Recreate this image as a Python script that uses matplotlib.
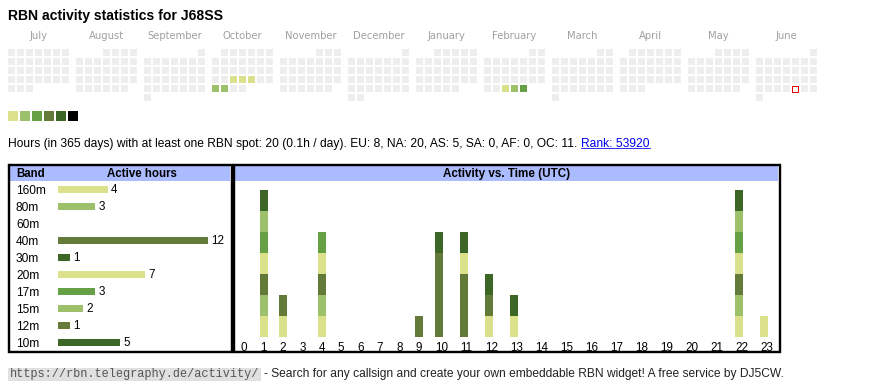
import datetime as dt
import matplotlib
matplotlib.use("Agg")
import matplotlib.pyplot as plt
from matplotlib.patches import Rectangle

# ---------------- data ----------------
title = "RBN activity statistics for J68SS"
months = ["July", "August", "September", "October", "November", "December",
          "January", "February", "March", "April", "May", "June"]
start_year, start_month = 2024, 7
level_colors = ["#dbe18a", "#9dc06a", "#66a044", "#647a38", "#3b6626", "#000000"]
empty_color = "#eeeeee"
active_dates = ["2024-10-23", "2024-10-24", "2024-10-25", "2024-10-28", "2024-10-29",
                "2025-02-26", "2025-02-27", "2025-02-28"]
active_levels = [1, 1, 1, 2, 2, 1, 2, 3]
today = "2025-06-27"

summary = ("Hours (in 365 days) with at least one RBN spot: 20 (0.1h / day). "
           "EU: 8, NA: 20, AS: 5, SA: 0, AF: 0, OC: 11.")
rank_text = "Rank: 53920"

bands = ["160m", "80m", "60m", "40m", "30m", "20m", "17m", "15m", "12m", "10m"]
band_hours = [4, 3, 0, 12, 1, 7, 3, 2, 1, 5]
band_colors = ["#dbe18a", "#9dc06a", "#66a044", "#647a38", "#3b6626",
               "#dbe18a", "#66a044", "#9dc06a", "#647a38", "#3b6626"]

hours = list(range(24))
# hours of activity per band for each UTC hour (0..23)
act_160m = [0, 1, 1, 0, 1, 0, 0, 0, 0, 0, 0, 0, 0, 0, 0, 0, 0, 0, 0, 0, 0, 0, 1, 0]
act_80m  = [0, 1, 0, 0, 1, 0, 0, 0, 0, 0, 0, 0, 0, 0, 0, 0, 0, 0, 0, 0, 0, 0, 1, 0]
act_60m  = [0] * 24
act_40m  = [0, 1, 1, 0, 1, 0, 0, 0, 0, 1, 4, 3, 0, 0, 0, 0, 0, 0, 0, 0, 0, 0, 1, 0]
act_30m  = [0, 0, 0, 0, 0, 0, 0, 0, 0, 0, 1, 0, 0, 0, 0, 0, 0, 0, 0, 0, 0, 0, 0, 0]
act_20m  = [0, 1, 0, 0, 1, 0, 0, 0, 0, 0, 0, 1, 1, 1, 0, 0, 0, 0, 0, 0, 0, 0, 1, 1]
act_17m  = [0, 1, 0, 0, 1, 0, 0, 0, 0, 0, 0, 0, 0, 0, 0, 0, 0, 0, 0, 0, 0, 0, 1, 0]
act_15m  = [0, 1, 0, 0, 0, 0, 0, 0, 0, 0, 0, 0, 0, 0, 0, 0, 0, 0, 0, 0, 0, 0, 1, 0]
act_12m  = [0, 0, 0, 0, 0, 0, 0, 0, 0, 0, 0, 0, 1, 0, 0, 0, 0, 0, 0, 0, 0, 0, 0, 0]
act_10m  = [0, 1, 0, 0, 0, 0, 0, 0, 0, 0, 0, 1, 1, 1, 0, 0, 0, 0, 0, 0, 0, 0, 1, 0]
activity = [act_160m, act_80m, act_60m, act_40m, act_30m,
            act_20m, act_17m, act_15m, act_12m, act_10m]

footer_url = "https://rbn.telegraphy.de/activity/"
footer_text = "- Search for any callsign and create your own embeddable RBN widget! A free service by DJ5CW."

# ---------------- layout ----------------
W, H, DPI = 870, 390, 100
SANS = ["Liberation Sans", "DejaVu Sans"]
PT = 0.72  # points per pixel at 100 dpi

fig = plt.figure(figsize=(W / DPI, H / DPI), dpi=DPI)
fig.patch.set_facecolor("white")


def px_rect(x, y_top, w, h):
    return [x / W, (H - y_top - h) / H, w / W, h / H]


ax0 = fig.add_axes([0, 0, 1, 1])
ax0.set_xlim(0, W)
ax0.set_ylim(H, 0)
ax0.axis("off")

ax0.text(8, 20, title, fontsize=10.1, fontweight="bold", family=SANS,
         va="baseline", ha="left", color="#000000")

# ---------------- calendar ----------------
PITCH = 9.0
MONTH_W = 68.0
axc = fig.add_axes(px_rect(8, 49, 90 * PITCH, 6 * PITCH))
axc.set_xlim(0, 90)
axc.set_ylim(6, 0)
axc.axis("off")
axc.patch.set_alpha(0)
cell = 7.0 / PITCH
level_by_date = dict(zip(active_dates, active_levels))
for m, name in enumerate(months):
    y = start_year + (start_month - 1 + m) // 12
    mo = (start_month - 1 + m) % 12 + 1
    first = dt.date(y, mo, 1)
    nxt = dt.date(y + (mo // 12), mo % 12 + 1, 1)
    ndays = (nxt - first).days
    off = m * MONTH_W / PITCH
    axc.text(off + 30.5 / PITCH, -10 / PITCH, name, fontsize=7.2,
             family="DejaVu Sans", color="#a0a0a0", ha="center", va="baseline",
             clip_on=False)
    for d in range(ndays):
        day = first + dt.timedelta(days=d)
        col = day.weekday()
        row = (d + first.weekday()) // 7
        key = day.isoformat()
        lvl = level_by_date.get(key, 0)
        fc = level_colors[lvl - 1] if lvl else empty_color
        if key == today:
            axc.add_patch(Rectangle((off + col + 0.5 / PITCH, row + 0.5 / PITCH),
                                    6 / PITCH, 6 / PITCH, facecolor="white",
                                    edgecolor="#e00000", linewidth=1.0 * PT))
        else:
            axc.add_patch(Rectangle((off + col, row), cell, cell,
                                    facecolor=fc, edgecolor="none"))

# legend swatches
for i, c in enumerate(level_colors):
    ax0.add_patch(Rectangle((8 + 12 * i, 111), 9.6, 9.6, facecolor=c, edgecolor="none"))

# summary line
t_sum = ax0.text(8, 146.7, summary, fontsize=8.66, family=SANS, va="baseline",
                 ha="left", color="#000000")

# ---------------- boxes ----------------
BOX_LW = 2.4 * PT
ax0.add_patch(Rectangle((9.2, 164.5), 222.6, 187.0, facecolor="none",
                        edgecolor="black", linewidth=BOX_LW, zorder=5))
ax0.add_patch(Rectangle((234.2, 164.5), 545.4, 187.0, facecolor="none",
                        edgecolor="black", linewidth=BOX_LW, zorder=5))
ax0.add_patch(Rectangle((10.5, 166), 220, 14.5, facecolor="#aabbff", edgecolor="none"))
ax0.add_patch(Rectangle((235.5, 166), 543, 14.5, facecolor="#aabbff", edgecolor="none"))
ax0.text(16, 177, "Band", fontsize=8.3, fontweight="bold", family=SANS,
         ha="left", va="baseline")
ax0.text(141.5, 177, "Active hours", fontsize=8.3, fontweight="bold", family=SANS,
         ha="center", va="baseline")
ax0.text(507, 177, "Activity vs. Time (UTC)", fontsize=8.4, fontweight="bold",
         family=SANS, ha="center", va="baseline")

# ---------------- band bars ----------------
ROW = 17.0
axb = fig.add_axes(px_rect(58, 189.5 - ROW / 2, 150, ROW * 10))
axb.set_xlim(0, 12)
axb.set_ylim(9.5, -0.5)
axb.patch.set_alpha(0)
for s in axb.spines.values():
    s.set_visible(False)
axb.barh(range(len(bands)), band_hours, height=7.0 / ROW, color=band_colors)
for i, v in enumerate(band_hours):
    if v > 0:
        axb.text(v + 3.0 / 12.5, i + 0.02, str(v), fontsize=8.4, family=SANS,
                 va="center", ha="left")
axb.set_xticks([])
axb.set_yticks(range(len(bands)))
axb.set_yticklabels(bands, family=SANS, fontsize=8.6, ha="left")
axb.tick_params(axis="y", length=0, pad=42 * PT)

# ---------------- activity vs time ----------------
# table-like columns: width grows with the number of digits in the hour label
UNIT = 21.0
col_w = [19.41 if h < 10 else 25.0 for h in hours]
col_start = []
acc = 240.6
for w in col_w:
    col_start.append(acc)
    acc += w
axa = fig.add_axes(px_rect(233, 336.7 - 7 * UNIT, 547, 7 * UNIT))
axa.set_xlim(233, 780)
axa.set_ylim(0, 7)
axa.patch.set_alpha(0)
for s in axa.spines.values():
    s.set_visible(False)
bottom = [0] * 24
for vals, c in zip(activity, band_colors):
    axa.bar(col_start, vals, bottom=bottom, width=8.0, align="edge", color=c,
            linewidth=0)
    bottom = [b + v for b, v in zip(bottom, vals)]
axa.set_yticks([])
axa.set_xticks([s + 0.3 for s in col_start])
axa.set_xticklabels([str(h) for h in hours], family=SANS, fontsize=8.4, ha="left")
axa.tick_params(axis="x", length=0, pad=4.0)

# ---------------- text placement needing measurement ----------------
fig.canvas.draw()
r = fig.canvas.get_renderer()
inv = ax0.transData.inverted()
bb = t_sum.get_window_extent(r)
x_end = inv.transform((bb.x1, bb.y0))[0]
t_rank = ax0.text(x_end + 3.8, 146.7, rank_text, fontsize=8.66, family=SANS,
                  va="baseline", ha="left", color="#0000ee")
fig.canvas.draw()
bb2 = t_rank.get_window_extent(r)
(rx0, _), (rx1, _) = inv.transform((bb2.x0, 0)), inv.transform((bb2.x1, 0))
ax0.plot([rx0, rx1], [148.3, 148.3], color="#0000ee", linewidth=0.8 * PT)

t_url = ax0.text(10, 377.5, footer_url, fontsize=8.6, family="Liberation Mono",
                 color="#555555", va="baseline", ha="left")
fig.canvas.draw()
bb3 = t_url.get_window_extent(r)
ux1 = inv.transform((bb3.x1, 0))[0]
ax0.add_patch(Rectangle((8, 367.5), ux1 - 8 + 1.5, 13.5, facecolor="#e0e0e0",
                        edgecolor="none", zorder=0))
ax0.text(ux1 + 5, 377.5, footer_text, fontsize=8.63, family=SANS, color="#222222",
         va="baseline", ha="left")

fig.savefig("out.png", dpi=DPI, facecolor="white")
